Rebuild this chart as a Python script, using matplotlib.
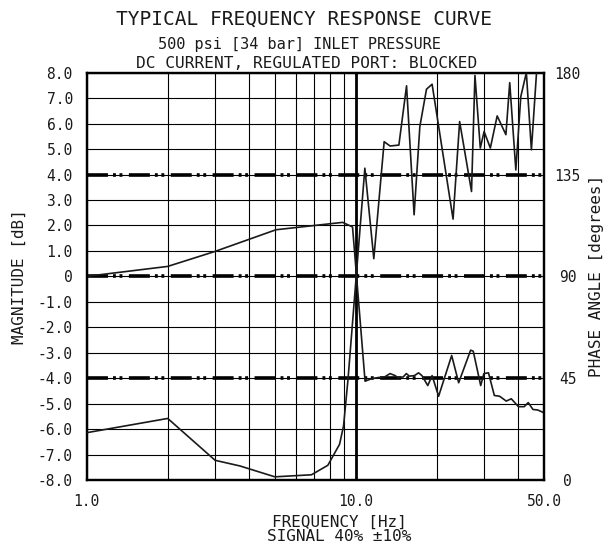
import matplotlib
matplotlib.use("Agg")
import matplotlib.pyplot as plt

# Magnitude curve [dB]
mag_freq = [1.0, 2.0, 3.0, 5.05, 8.93, 9.72, 10.82, 11.44, 12.2, 12.8, 13.4, 14.0,
            14.3, 15.0, 15.4, 15.8, 16.5, 17.1, 17.6, 18.5, 19.2, 20.3, 22.7, 24.1,
            26.7, 27.3, 29.1, 29.9, 31.1, 32.7, 34.2, 36.2, 37.8, 40.2, 42.2, 43.7,
            45.5, 47.4, 50.0]
mag_db = [0.0, 0.39, 0.98, 1.83, 2.12, 1.94, -4.12, -4.02, -3.97, -3.95, -3.82, -3.9,
          -3.98, -3.95, -3.82, -3.92, -3.9, -3.79, -3.9, -4.29, -3.9, -4.71, -3.11, -4.18,
          -2.9, -2.94, -4.29, -3.82, -3.79, -4.68, -4.71, -4.9, -4.81, -5.12, -5.12, -4.96,
          -5.23, -5.25, -5.36]

# Phase curve [degrees]
ph_freq = [1.0, 2.0, 3.0, 3.71, 5.0, 6.84, 7.87, 8.7, 9.0, 9.35, 10.8, 11.66, 12.74,
           13.4, 14.45, 15.43, 16.46, 17.29, 18.3, 19.2, 22.97, 24.3, 26.9, 27.7, 29.0,
           29.96, 31.6, 33.5, 36.1, 37.3, 39.3, 41.0, 43.0, 44.9, 46.9]
ph_deg = [20.9, 27.2, 8.7, 6.2, 1.4, 2.3, 6.5, 15.8, 23.9, 44.4, 137.8, 97.8, 149.5,
          147.6, 148.0, 174.2, 117.2, 156.2, 172.7, 174.9, 115.3, 158.4, 127.5, 178.8, 146.7,
          154.0, 146.7, 160.9, 152.6, 175.6, 137.0, 169.4, 180.0, 145.9, 179.8]

mag_ticks = [8, 7, 6, 5, 4, 3, 2, 1, 0, -1, -2, -3, -4, -5, -6, -7, -8]
mag_labels = ["8.0", "7.0", "6.0", "5.0", "4.0", "3.0", "2.0", "1.0", "0",
              "-1.0", "-2.0", "-3.0", "-4.0", "-5.0", "-6.0", "-7.0", "-8.0"]
ph_ticks = [0, 45, 90, 135, 180]
freq_major = [1, 10, 50]
freq_labels = ["1.0", "10.0", "50.0"]
freq_minor = [2, 3, 4, 5, 6, 7, 8, 9, 20, 30, 40]
ref_lines = [4, 0, -4]

font = "DejaVu Sans Mono"
plt.rcParams["font.family"] = font
ink = "#1a1a1a"

fig = plt.figure(figsize=(6.08, 5.49), dpi=100)
ax = fig.add_axes([0.1426, 0.1257, 0.7521, 0.7419])

ax.set_xscale("log")
ax.set_xlim(1, 50)
ax.set_ylim(-8, 8)
ax.set_xticks(freq_major)
ax.set_xticklabels(freq_labels)
ax.set_xticks(freq_minor, minor=True)
ax.set_xticklabels([], minor=True)
ax.set_yticks(mag_ticks)
ax.set_yticklabels(mag_labels)

ax.grid(True, which="both", color="black", lw=0.8)
ax.axvline(10, color="black", lw=2.0)
for y in ref_lines:
    ax.axhline(y, color="black", lw=2.6, ls=(0, (5.8, 1.4, 0.8, 1.0, 0.8, 1.8)))

ax.plot(mag_freq, mag_db, color=ink, lw=1.2, zorder=5)

ax2 = ax.twinx()
ax2.set_ylim(0, 180)
ax2.set_yticks(ph_ticks)
ax2.set_yticklabels([str(t) for t in ph_ticks], ha="center")
ax2.plot(ph_freq, ph_deg, color=ink, lw=1.2, zorder=5)

for a in (ax, ax2):
    for s in a.spines.values():
        s.set_linewidth(1.6)
    a.tick_params(which="both", length=0, labelsize=10.5, labelcolor=ink)
ax.tick_params(axis="y", pad=10)
ax.tick_params(axis="x", pad=10)
ax2.tick_params(axis="y", pad=17)

ax.set_ylabel("MAGNITUDE [dB]", fontsize=11.5, labelpad=8, color=ink)
fig.text(597 / 608, 0.497, "PHASE ANGLE [degrees]", rotation=90, ha="center",
         va="center", fontsize=11.5, color=ink)
ax.set_xlabel("FREQUENCY [Hz]\nSIGNAL 40% \u00b110%", fontsize=11.5, labelpad=4,
              linespacing=1.0, color=ink)
ax.xaxis.label.set_x(0.552)

fig.text(0.5, 0.965, "TYPICAL FREQUENCY RESPONSE CURVE", ha="center", va="center",
         fontsize=14, color=ink)
fig.text(0.493, 0.919, "500 psi [34 bar] INLET PRESSURE", ha="center", va="center",
         fontsize=11, color=ink)
fig.text(0.505, 0.884, "DC CURRENT, REGULATED PORT: BLOCKED", ha="center", va="center",
         fontsize=11.6, color=ink)

fig.savefig("out.png", dpi=100)
